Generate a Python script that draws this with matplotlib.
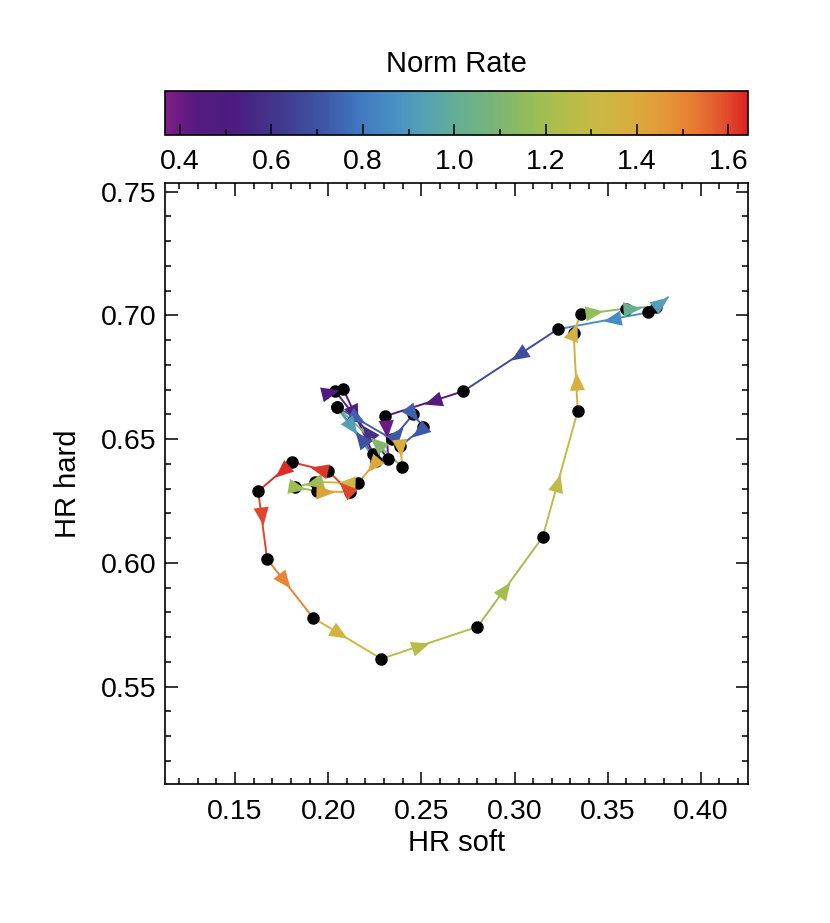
import numpy as np
import matplotlib
matplotlib.use("Agg")
import matplotlib.pyplot as plt
from matplotlib.colors import LinearSegmentedColormap, Normalize
from matplotlib.markers import MarkerStyle
from matplotlib.path import Path
from matplotlib.transforms import Affine2D
from matplotlib.ticker import MultipleLocator, FormatStrFormatter
import matplotlib.cm as cm

plt.rcParams['font.family'] = ['Liberation Sans', 'DejaVu Sans']

# time-ordered track
hr_soft = [0.3715, 0.3231, 0.2726, 0.2306, 0.2323, 0.2038, 0.2081, 0.2242,
           0.2048, 0.2344, 0.2457, 0.2511, 0.2387, 0.2398, 0.2048, 0.2258,
           0.2161, 0.1930, 0.1823, 0.1941, 0.2118, 0.2000, 0.1806, 0.1624,
           0.1672, 0.1919, 0.2285, 0.2801, 0.3151, 0.3339, 0.3317, 0.3355,
           0.3597, 0.3758, 0.3823]
hr_hard = [0.7012, 0.6944, 0.6694, 0.6593, 0.6419, 0.6694, 0.6702, 0.6440,
           0.6629, 0.6500, 0.6601, 0.6548, 0.6472, 0.6387, 0.6629, 0.6411,
           0.6323, 0.6327, 0.6306, 0.6290, 0.6286, 0.6371, 0.6407, 0.6290,
           0.6016, 0.5778, 0.5613, 0.5742, 0.6105, 0.6613, 0.6931, 0.7004,
           0.7028, 0.7036, 0.7073]
norm_rate = [0.86, 0.68, 0.46, 0.40, 0.58, 0.50, 0.44, 0.70,
             0.74, 0.72, 0.74, 0.72, 1.38, 1.12, 0.92, 1.40,
             1.33, 1.18, 1.18, 1.42, 1.60, 1.62, 1.63, 1.60,
             1.50, 1.36, 1.25, 1.20, 1.28, 1.36, 1.36, 1.16,
             1.02, 0.92, 0.92]

x_ticks = [0.15, 0.20, 0.25, 0.30, 0.35, 0.40]
y_ticks = [0.55, 0.60, 0.65, 0.70, 0.75]
cb_ticks = [0.4, 0.6, 0.8, 1.0, 1.2, 1.4, 1.6]

cmap = LinearSegmentedColormap.from_list('rate', [
    (0.00, '#7E1E86'), (0.05, '#561A7F'), (0.12, '#4B1D80'), (0.20, '#413A8F'),
    (0.27, '#3D56A5'), (0.33, '#4176C0'), (0.40, '#4A93C2'), (0.45, '#56A3B1'),
    (0.50, '#64AE94'), (0.56, '#78B47A'), (0.62, '#92BC5C'), (0.68, '#B0BE4B'),
    (0.74, '#C9B944'), (0.80, '#D8AE3E'), (0.86, '#E39737'), (0.91, '#E77A33'),
    (0.96, '#E2502D'), (1.00, '#DC2323')])
norm = Normalize(0.367, 1.643)

fig = plt.figure(figsize=(8.3, 9.23), dpi=100)
ax = fig.add_axes([0.1988, 0.1506, 0.7024, 0.6511])
ax.set_xlim(0.1124, 0.4253)
ax.set_ylim(0.5107, 0.7535)

x = np.array(hr_soft)
y = np.array(hr_hard)
n = len(x)

# segments
for i in range(n - 1):
    ax.plot(x[i:i + 2], y[i:i + 2], color=cmap(norm(norm_rate[i])), lw=1.4, zorder=1)

# data points (the last one is hidden under its arrow head)
ax.plot(x[:-1], y[:-1], 'o', color='k', ms=8, zorder=2)

# arrow heads: tip at segment midpoint, last one at the end of the track
head = Path([(0, 0), (-1, 0.42), (-1, -0.42), (0, 0)],
            [Path.MOVETO, Path.LINETO, Path.LINETO, Path.CLOSEPOLY])
disp = ax.transData.transform(np.column_stack([x, y]))
for i in range(n - 1):
    dx, dy = disp[i + 1] - disp[i]
    ang = np.arctan2(dy, dx)
    mk = MarkerStyle(head, transform=Affine2D().rotate(ang))
    if i == n - 2:
        px, py = x[i + 1], y[i + 1]
    else:
        px, py = (x[i] + x[i + 1]) / 2, (y[i] + y[i + 1]) / 2
    ax.plot(px, py, marker=mk, ms=26, color=cmap(norm(norm_rate[i])),
            mec='none', ls='none', zorder=3)

ax.set_xticks(x_ticks)
ax.set_yticks(y_ticks)
ax.xaxis.set_minor_locator(MultipleLocator(0.01))
ax.yaxis.set_minor_locator(MultipleLocator(0.01))
ax.xaxis.set_major_formatter(FormatStrFormatter('%.2f'))
ax.yaxis.set_major_formatter(FormatStrFormatter('%.2f'))
ax.tick_params(which='both', direction='in', top=True, right=True, width=1.1, labelsize=20.5)
ax.tick_params(axis='x', which='major', length=9, pad=11)
ax.tick_params(axis='y', which='major', length=9, pad=6)
ax.tick_params(which='minor', length=4.5)
for s in ax.spines.values():
    s.set_linewidth(1.2)
ax.set_xlabel('HR soft', fontsize=21, labelpad=3)
ax.set_ylabel('HR hard', fontsize=21, labelpad=14)

# colour bar
cax = fig.add_axes([0.1988, 0.8537, 0.7024, 0.0477])
cb = fig.colorbar(cm.ScalarMappable(norm=norm, cmap=cmap), cax=cax, orientation='horizontal')
cb.set_ticks(cb_ticks)
cb.set_ticklabels(['%.1f' % t for t in cb_ticks])
cax.xaxis.set_minor_locator(MultipleLocator(0.1))
cax.tick_params(which='both', direction='in', bottom=True, top=False, labelsize=20.5, width=1.1)
cax.tick_params(which='major', length=8, pad=10)
cax.tick_params(which='minor', length=4)
cb.outline.set_linewidth(1.2)
cax.set_title('Norm Rate', fontsize=21, pad=14)

fig.savefig('out.png', dpi=100)
